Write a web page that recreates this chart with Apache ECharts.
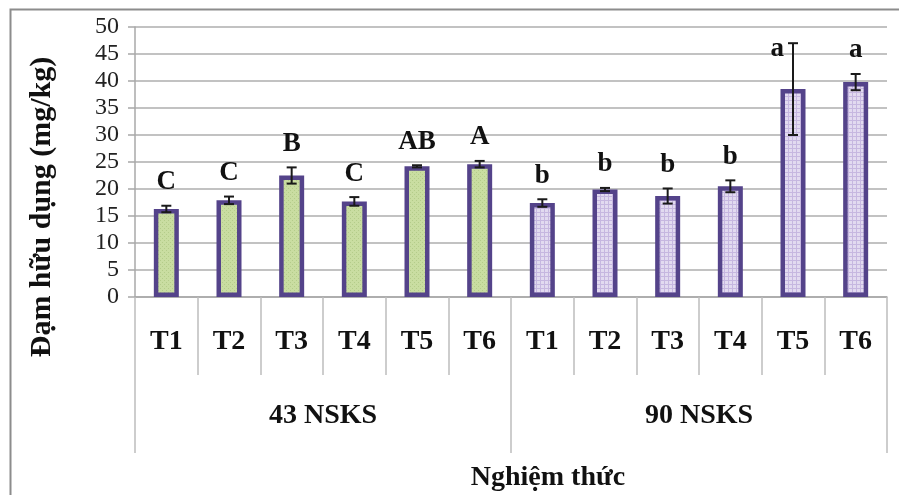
<!DOCTYPE html>
<html>
<head>
<meta charset="utf-8">
<script src="https://cdn.jsdelivr.net/npm/echarts@6/dist/echarts.min.js"></script>
<style>
html,body{margin:0;padding:0;background:#fff;}
#chart{width:899px;height:495px;}
</style>
</head>
<body>
<div id="chart"></div>
<script>
// ---- data ----
const treatments = ['T1', 'T2', 'T3', 'T4', 'T5', 'T6'];
const groups = ['43 NSKS', '90 NSKS'];
const mean43 = [16.3, 17.9, 22.5, 17.7, 24.2, 24.6];
const err43 = [0.6, 0.7, 1.5, 0.8, 0.2, 0.6];
const mean90 = [17.4, 19.9, 18.7, 20.5, 38.5, 39.8];
const err90 = [0.7, 0.3, 1.4, 1.1, 8.5, 1.5];
const letters43 = ['C', 'C', 'B', 'C', 'AB', 'A'];
const letters90 = ['b', 'b', 'b', 'b', 'a', 'a'];
const yMin = 0, yMax = 50, yStep = 5;
const yTitle = 'Đạm hữu dụng (mg/kg)';
const xTitle = 'Nghiệm thức';

// ---- styling helpers ----
const SERIF = '"Liberation Serif","Times New Roman",serif';
function makePattern(base, mark, kind) {
  const c = document.createElement('canvas');
  c.width = 4; c.height = 4;
  const g = c.getContext('2d');
  g.fillStyle = base; g.fillRect(0, 0, 4, 4);
  g.fillStyle = mark;
  if (kind === 'dots') {
    g.fillRect(0, 0, 1, 1); g.fillRect(2, 2, 1, 1);
  } else {
    g.fillRect(0, 0, 4, 1); g.fillRect(0, 0, 1, 4);
  }
  return { image: c, repeat: 'repeat' };
}
const greenFill = makePattern('#c9dda1', '#b4cc8a', 'dots');
const purpleFill = makePattern('#e2daf0', '#c6b7e0', 'grid');
const borderColor = '#54438a';

const categories = treatments.concat(treatments);
const means = mean43.concat(mean90);
const errs = err43.concat(err90);
const letters = letters43.concat(letters90);

const barData = means.map((v, i) => ({
  value: v,
  itemStyle: { color: i < treatments.length ? greenFill : purpleFill }
}));
const errData = means.map((v, i) => [i, v, errs[i]]);

const chart = echarts.init(document.getElementById('chart'), null, { renderer: 'canvas' });
chart.setOption({
  animation: false,
  backgroundColor: '#fff',
  grid: { left: 135, right: 12, top: 27, bottom: 198, containLabel: false },
  xAxis: [
    {
      type: 'category', data: categories, gridIndex: 0, position: 'bottom',
      axisLine: { show: true, lineStyle: { color: '#a8a8a8', width: 1.5 } },
      axisTick: { show: true, interval: 0, length: 78, lineStyle: { color: '#bdbdbd', width: 1.5 } },
      axisLabel: { interval: 0, margin: 31, fontFamily: SERIF, fontWeight: 'bold', fontSize: 28, color: '#111' }
    },
    {
      type: 'category', data: groups, gridIndex: 0, position: 'bottom',
      axisLine: { show: false },
      axisTick: { show: true, interval: 0, length: 156, lineStyle: { color: '#bdbdbd', width: 1.5 } },
      axisLabel: { interval: 0, margin: 105, fontFamily: SERIF, fontWeight: 'bold', fontSize: 28, color: '#111' }
    }
  ],
  yAxis: {
    type: 'value', min: yMin, max: yMax, interval: yStep,
    axisLine: { show: true, lineStyle: { color: '#a8a8a8', width: 1.5 } },
    axisTick: { show: true, inside: false, length: 7, lineStyle: { color: '#a8a8a8', width: 1.5 } },
    axisLabel: { margin: 16, fontFamily: SERIF, fontSize: 24, color: '#222' },
    splitLine: { show: true, lineStyle: { color: '#c2c2c2', width: 2 } }
  },
  series: [
    {
      type: 'bar', xAxisIndex: 0, data: barData, barWidth: 25,
      itemStyle: { borderColor: borderColor, borderWidth: 4.5 },
      z: 2
    },
    {
      type: 'custom', xAxisIndex: 0, data: errData, z: 5,
      encode: { x: 0, y: 1 },
      renderItem: function (params, api) {
        const i = api.value(0), v = api.value(1), e = api.value(2);
        const top = api.coord([i, v + e]);
        const bot = api.coord([i, v - e]);
        const cap = 5;
        const st = { stroke: '#1a1a1a', lineWidth: 2 };
        const children = [
          { type: 'line', shape: { x1: top[0], y1: top[1], x2: bot[0], y2: bot[1] }, style: st },
          { type: 'line', shape: { x1: top[0] - cap, y1: top[1], x2: top[0] + cap, y2: top[1] }, style: st },
          { type: 'line', shape: { x1: bot[0] - cap, y1: bot[1], x2: bot[0] + cap, y2: bot[1] }, style: st }
        ];
        const tall = e > 5;
        children.push({
          type: 'text',
          x: tall ? top[0] - 9 : top[0],
          y: tall ? top[1] + 6 : top[1] - 10,
          style: {
            text: letters[params.dataIndex],
            font: 'bold 27px ' + SERIF,
            fill: '#111',
            align: tall ? 'right' : 'center',
            verticalAlign: tall ? 'middle' : 'bottom'
          }
        });
        return { type: 'group', children: children };
      }
    }
  ],
  graphic: [
    {
      type: 'rect', left: 8, top: 7, z: -1, silent: true,
      shape: { width: 900, height: 500 },
      style: { fill: 'none', stroke: '#8c8c8c', lineWidth: 2 }
    },
    {
      type: 'text', x: 42, y: 207, rotation: Math.PI / 2,
      style: { text: yTitle, font: 'bold 30px ' + SERIF, fill: '#111', align: 'center', verticalAlign: 'middle' }
    },
    {
      type: 'text', x: 548, y: 478,
      style: { text: xTitle, font: 'bold 28px ' + SERIF, fill: '#111', align: 'center', verticalAlign: 'middle' }
    }
  ]
});
</script>
</body>
</html>
